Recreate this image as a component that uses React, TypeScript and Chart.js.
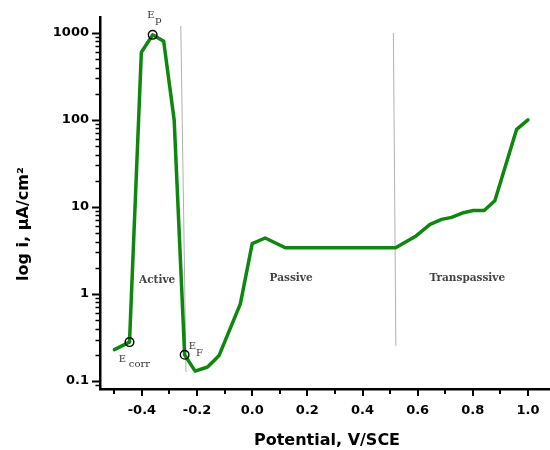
import React, { useEffect, useRef } from 'react';
import { Chart, registerables } from 'chart.js';

Chart.register(...registerables);

// ---- data ----
const potential = [
  -0.5, -0.445, -0.402, -0.361, -0.321, -0.283, -0.245, -0.207, -0.162, -0.12,
  -0.043, 0.0, 0.047, 0.12, 0.52, 0.591, 0.645, 0.687, 0.723, 0.766, 0.802,
  0.841, 0.88, 0.959, 1.0,
];
const current = [
  0.23, 0.28, 600, 950, 800, 100, 0.2, 0.13, 0.145, 0.197,
  0.77, 3.8, 4.4, 3.4, 3.4, 4.57, 6.3, 7.2, 7.6, 8.6, 9.1,
  9.1, 11.8, 78, 100,
];

const markerPotential = [-0.445, -0.361, -0.245];
const markerCurrent = [0.28, 950, 0.2];
const markerSubscripts = ['corr', 'p', 'F'];

const divider1Potential = [-0.259, -0.24];
const divider1Current = [1200, 0.127];
const divider2Potential = [0.512, 0.521];
const divider2Current = [1000, 0.254];

const regionNames = ['Active', 'Passive', 'Transpassive'];
const regionPotential = [-0.345, 0.141, 0.78];
const regionCurrent = [1.42, 1.5, 1.53];

const xTickValues = [-0.4, -0.2, 0.0, 0.2, 0.4, 0.6, 0.8, 1.0];
const xTickLabels = ['-0.4', '-0.2', '0.0', '0.2', '0.4', '0.6', '0.8', '1.0'];
const xMinorTickValues = [-0.5, -0.3, -0.1, 0.1, 0.3, 0.5, 0.7, 0.9];
const yTickValues = [0.1, 1, 10, 100, 1000];
const yTickLabels = ['0.1', '1', '10', '100', '1000'];

const xTitle = 'Potential, V/SCE';
const yTitle = 'log i, \u03BCA/cm\u00B2';

const X_MIN = -0.552;
const X_MAX = 1.08;
const Y_MIN = 0.081;
const Y_MAX = 1524;

// label offsets (pixels) relative to the marker circles: [E dx, E dy, sub dx, sub dy]
const markerLabelOffsets = [
  [-10.7, 20, -0.7, 24.8],
  [-5.5, -16.4, 2.5, -12.2],
  [4, -5.7, 11.4, 1],
];

const overlayPlugin = {
  id: 'overlay',
  afterDraw(chart: any) {
    const ctx = chart.ctx;
    const xs = chart.scales.x;
    const ys = chart.scales.y;
    const area = chart.chartArea;
    ctx.save();
    ctx.strokeStyle = '#000';
    ctx.lineCap = 'butt';

    // y tick marks (major + minor)
    for (let e = -2; e <= 4; e++) {
      for (let k = 1; k <= 9; k++) {
        const v = k * Math.pow(10, e);
        if (v < Y_MIN || v > Y_MAX) continue;
        const py = Math.round(ys.getPixelForValue(v)) + 0.5;
        const len = k === 1 ? 8 : 4.5;
        ctx.lineWidth = k === 1 ? 2 : 1.5;
        ctx.beginPath();
        ctx.moveTo(area.left - len, py);
        ctx.lineTo(area.left, py);
        ctx.stroke();
      }
    }
    // x tick marks
    ctx.lineWidth = 2;
    xTickValues.forEach((v) => {
      const px = Math.round(xs.getPixelForValue(v));
      ctx.beginPath();
      ctx.moveTo(px, area.bottom);
      ctx.lineTo(px, area.bottom + 7);
      ctx.stroke();
    });
    xMinorTickValues.forEach((v) => {
      const px = Math.round(xs.getPixelForValue(v));
      ctx.beginPath();
      ctx.moveTo(px, area.bottom);
      ctx.lineTo(px, area.bottom + 5);
      ctx.stroke();
    });

    // region labels
    ctx.fillStyle = '#444';
    ctx.font = "bold 10.5px 'DejaVu Serif'";
    ctx.textAlign = 'center';
    ctx.textBaseline = 'middle';
    regionNames.forEach((name, i) => {
      ctx.fillText(name, xs.getPixelForValue(regionPotential[i]), ys.getPixelForValue(regionCurrent[i]));
    });

    // E labels
    ctx.fillStyle = '#333';
    ctx.textAlign = 'left';
    ctx.textBaseline = 'alphabetic';
    ctx.font = "10px 'DejaVu Serif'";
    markerSubscripts.forEach((sub, i) => {
      const px = xs.getPixelForValue(markerPotential[i]);
      const py = ys.getPixelForValue(markerCurrent[i]);
      const o = markerLabelOffsets[i];
      ctx.fillText('E', px + o[0], py + o[1]);
      ctx.fillText(sub, px + o[2], py + o[3]);
    });

    // axis titles
    ctx.fillStyle = '#000';
    ctx.font = "bold 16px 'DejaVu Sans'";
    ctx.textAlign = 'center';
    ctx.textBaseline = 'alphabetic';
    ctx.fillText(xTitle, (area.left + area.right) / 2 + 2, 445);
    ctx.translate(28, 224);
    ctx.rotate(-Math.PI / 2);
    ctx.fillText(yTitle, 0, 0);
    ctx.restore();
  },
};

export default function App() {
  const canvasRef = useRef<HTMLCanvasElement | null>(null);

  useEffect(() => {
    const canvas = canvasRef.current;
    if (!canvas) return;
    const toPoints = (xsArr: number[], ysArr: number[]) => xsArr.map((x, i) => ({ x, y: ysArr[i] }));
    const tickFont = { family: 'DejaVu Sans', weight: 'bold' as const, size: 13 };

    const chart = new Chart(canvas, {
      type: 'line',
      data: {
        datasets: [
          {
            label: 'markers',
            data: toPoints(markerPotential, markerCurrent),
            showLine: false,
            pointRadius: 4.3,
            pointBorderWidth: 1.4,
            pointBorderColor: '#000',
            pointBackgroundColor: 'rgba(0,0,0,0)',
          },
          {
            label: 'polarization',
            data: toPoints(potential, current),
            borderColor: '#0d870d',
            borderWidth: 3.5,
            borderJoinStyle: 'round',
            borderCapStyle: 'round',
            pointRadius: 0,
            tension: 0,
            fill: false,
          },
          {
            label: 'divider1',
            data: toPoints(divider1Potential, divider1Current),
            borderColor: '#b0b0b0',
            borderWidth: 1,
            pointRadius: 0,
            fill: false,
          },
          {
            label: 'divider2',
            data: toPoints(divider2Potential, divider2Current),
            borderColor: '#b0b0b0',
            borderWidth: 1,
            pointRadius: 0,
            fill: false,
          },
        ],
      },
      options: {
        responsive: false,
        animation: false,
        events: [],
        layout: { autoPadding: false, padding: { top: 17, left: 0, right: 0, bottom: 0 } },
        plugins: {
          legend: { display: false },
          tooltip: { enabled: false },
          title: { display: false },
        },
        scales: {
          x: {
            type: 'linear',
            min: X_MIN,
            max: X_MAX,
            afterBuildTicks: (s: any) => {
              s.ticks = xTickValues.map((v) => ({ value: v }));
            },
            afterFit: (s: any) => {
              s.height = 61;
              s.paddingLeft = 0;
              s.paddingRight = 0;
            },
            ticks: {
              callback: (_v: any, i: number) => xTickLabels[i],
              font: tickFont,
              color: '#000',
              padding: 14,
              maxRotation: 0,
              autoSkip: false,
              includeBounds: false,
            },
            grid: { display: false, drawTicks: false },
            border: { display: true, color: '#000', width: 2.5 },
          },
          y: {
            type: 'logarithmic',
            min: Y_MIN,
            max: Y_MAX,
            afterBuildTicks: (s: any) => {
              s.ticks = yTickValues.map((v) => ({ value: v }));
            },
            afterFit: (s: any) => {
              s.width = 100;
              s.paddingTop = 0;
              s.paddingBottom = 0;
            },
            ticks: {
              callback: (_v: any, i: number) => yTickLabels[i],
              font: tickFont,
              color: '#000',
              padding: 11,
              autoSkip: false,
            },
            grid: { display: false, drawTicks: false },
            border: { display: true, color: '#000', width: 2.5 },
          },
        },
      },
      plugins: [overlayPlugin],
    });
    return () => chart.destroy();
  }, []);

  return (
    <div style={{ position: 'absolute', left: 0, top: 0, width: 550, height: 450, background: '#fff' }}>
      <canvas ref={canvasRef} width={550} height={450} />
    </div>
  );
}
